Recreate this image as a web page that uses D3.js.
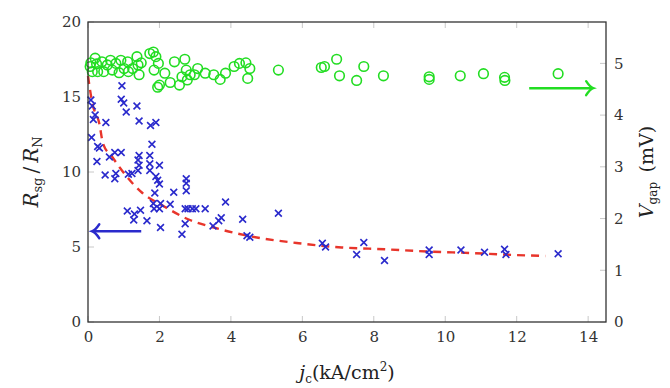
<!DOCTYPE html>
<html><head><meta charset="utf-8">
<script src="https://cdn.jsdelivr.net/npm/d3@7"></script>
<style>
body{margin:0;background:#fff;}
svg text{font-family:"DejaVu Serif","Liberation Serif",serif !important;}
</style></head>
<body>
<svg id="chart" width="670" height="388"></svg>
<script>
// Blue crosses: R_sg/R_N vs j_c
const rsgX = [0.08,0.12,0.1,0.15,0.2,0.27,0.32,0.25,0.48,0.5,0.6,0.75,0.78,0.75,0.93,0.95,0.93,1.0,1.07,1.13,1.1,1.23,1.28,1.3,1.37,1.43,1.43,1.4,1.43,1.4,1.47,1.65,1.73,1.73,1.73,1.75,1.79,1.87,1.83,1.85,1.9,1.9,1.95,2.0,2.0,2.0,2.03,2.03,2.3,2.4,2.63,2.72,2.72,2.75,2.75,2.75,2.8,2.92,3.02,3.28,3.5,3.66,3.73,3.85,4.33,4.45,4.53,5.33,6.56,6.65,7.52,7.72,8.3,9.55,9.55,10.44,11.1,11.66,11.7,13.16];
const rsgY = [14.8,14.4,12.3,13.5,13.8,11.7,11.6,10.7,9.8,13.3,11.0,11.3,9.9,9.55,11.3,15.75,14.85,14.6,14.0,9.85,7.4,9.9,6.8,7.2,14.4,13.4,11.1,10.8,10.45,10.1,7.45,6.75,11.1,10.55,10.1,13.1,11.85,8.6,7.9,7.55,13.3,9.7,9.45,9.2,10.45,7.55,6.3,7.9,7.85,8.65,5.85,6.55,7.55,9.55,9.25,8.75,7.55,7.55,7.55,7.55,6.4,6.75,6.95,8.0,6.85,5.75,5.65,7.25,5.25,5.0,4.5,5.3,4.1,4.8,4.5,4.8,4.65,4.85,4.5,4.55];
// Green circles: V_gap (mV) vs j_c
const vgX = [0.06,0.08,0.12,0.2,0.24,0.27,0.39,0.44,0.54,0.63,0.68,0.78,0.87,0.92,1.01,1.11,1.13,1.25,1.37,1.4,1.43,1.49,1.73,1.83,1.9,1.85,1.97,2.0,1.95,2.15,2.3,2.42,2.56,2.63,2.71,2.75,2.78,2.86,2.98,3.07,3.28,3.52,3.7,3.85,4.09,4.24,4.42,4.47,4.53,5.33,6.53,6.62,6.96,7.04,7.52,7.72,8.27,9.55,9.55,10.42,11.07,11.66,11.67,13.16];
const vgY = [4.94,5.01,4.84,5.1,4.99,4.84,5.03,4.84,4.97,5.06,4.87,5.0,4.82,5.06,4.9,5.03,4.84,4.9,5.13,4.97,4.78,5.01,5.19,5.22,5.13,4.87,5.0,4.58,4.54,4.81,4.63,5.03,4.58,4.74,5.08,4.87,4.68,4.78,4.78,4.9,4.81,4.78,4.69,4.81,4.94,5.0,5.01,4.71,4.9,4.87,4.92,4.94,5.08,4.76,4.67,4.94,4.76,4.74,4.69,4.76,4.8,4.73,4.67,4.8];
// Red dashed fit curve
const fitX = [0.0,0.12,0.32,0.42,0.68,0.95,1.5,2.1,2.8,3.52,4.47,5.9,7.1,8.3,9.5,10.7,11.9,12.8];
const fitY = [16.4,14.6,13.2,11.9,11.0,10.1,8.65,7.75,6.85,6.3,5.75,5.25,4.97,4.85,4.7,4.6,4.47,4.4];
// Tick labels
const xTicks = [0,2,4,6,8,10,12,14];
const yLeftTicks = [0,5,10,15,20];
const yRightTicks = [0,1,2,3,4,5];
// Arrow annotations [x0,x1,y]
const blueArrow = [1.49, 0.12, 6.05];
const greenArrow = [12.35, 14.14, 4.52];

const FONT = "'DejaVu Serif','Liberation Serif',serif";
const svg = d3.select("#chart");
const L = 88, R = 606, T = 22, B = 322;
const x = d3.scaleLinear().domain([0,14.5]).range([L,R]);
const yL = d3.scaleLinear().domain([0,20]).range([B,T]);
const yR = d3.scaleLinear().domain([0,5.8]).range([B,T]);

const tickCol = "#c8c8c8";
const gt = svg.append("g").attr("stroke", tickCol).attr("stroke-width", 1);
xTicks.forEach(t => {
  gt.append("line").attr("x1", x(t)).attr("x2", x(t)).attr("y1", B).attr("y2", B-6);
  gt.append("line").attr("x1", x(t)).attr("x2", x(t)).attr("y1", T).attr("y2", T+6);
});
yLeftTicks.forEach(t => {
  gt.append("line").attr("x1", L).attr("x2", L+6).attr("y1", yL(t)).attr("y2", yL(t));
});
yRightTicks.forEach(t => {
  gt.append("line").attr("x1", R).attr("x2", R-6).attr("y1", yR(t)).attr("y2", yR(t));
});

const fs = 15;
const fmt = d3.format("d");
const ax = svg.append("g").attr("transform", `translate(0,${B})`)
  .call(d3.axisBottom(x).tickValues(xTicks).tickFormat(fmt).tickSize(0).tickPadding(9));
const ayl = svg.append("g").attr("transform", `translate(${L},0)`)
  .call(d3.axisLeft(yL).tickValues(yLeftTicks).tickFormat(fmt).tickSize(0).tickPadding(7));
const ayr = svg.append("g").attr("transform", `translate(${R},0)`)
  .call(d3.axisRight(yR).tickValues(yRightTicks).tickFormat(fmt).tickSize(0).tickPadding(8));
[ax, ayl, ayr].forEach(g => {
  g.attr("font-family", null);
  g.select(".domain").remove();
  g.selectAll("text").attr("font-size", fs).attr("fill", "#333").style("font-family", FONT);
});

// fit curve
svg.append("path")
  .datum(fitX.map((d,i)=>[d, fitY[i]]))
  .attr("fill","none").attr("stroke","#e8352b").attr("stroke-width",2.4)
  .attr("stroke-dasharray","8,6")
  .attr("d", d3.line().x(d=>x(d[0])).y(d=>yL(d[1])).curve(d3.curveMonotoneX));

// green circles
svg.append("g").selectAll("circle").data(vgX.map((d,i)=>[d, vgY[i]])).join("circle")
  .attr("cx", d=>x(d[0])).attr("cy", d=>yR(d[1])).attr("r", 4.8)
  .attr("fill","none").attr("stroke","#22dd22").attr("stroke-width",1.6);

// blue crosses
const s = 3.4;
svg.append("g").selectAll("path").data(rsgX.map((d,i)=>[d, rsgY[i]])).join("path")
  .attr("d", d => {
    const cx = x(d[0]), cy = yL(d[1]);
    return `M${cx-s},${cy-s}L${cx+s},${cy+s}M${cx-s},${cy+s}L${cx+s},${cy-s}`;
  })
  .attr("stroke","#2a2acc").attr("stroke-width",1.6).attr("fill","none");

// arrows
function arrow(x0, x1, yy, col) {
  const dir = Math.sign(x1 - x0);
  svg.append("line").attr("x1", x0).attr("x2", x1 - dir*1).attr("y1", yy).attr("y2", yy)
    .attr("stroke", col).attr("stroke-width", 2.6);
  svg.append("path")
    .attr("d", `M${x1 - dir*7},${yy-7} Q${x1 - dir*3},${yy-1} ${x1},${yy} Q${x1 - dir*3},${yy+1} ${x1 - dir*7},${yy+7}`)
    .attr("fill","none").attr("stroke", col).attr("stroke-width", 2.4).attr("stroke-linecap","round");
}
arrow(x(blueArrow[0]), x(blueArrow[1]), yL(blueArrow[2]), "#2a2acc");
arrow(x(greenArrow[0]), x(greenArrow[1]), yR(greenArrow[2]), "#22dd22");

// frame
svg.append("rect").attr("x", L).attr("y", T).attr("width", R-L).attr("height", B-T)
  .attr("fill","none").attr("stroke","#333").attr("stroke-width",1.3);

// axis titles
const lt = svg.append("text").attr("transform", `translate(38,${(T+B)/2}) rotate(-90)`)
  .attr("text-anchor","middle").attr("font-size",20).attr("fill","#222").style("font-family", FONT);
lt.append("tspan").attr("font-style","italic").text("R");
lt.append("tspan").attr("font-size",13).attr("dy",4).text("sg");
lt.append("tspan").attr("dy",-4).text("\u2009/\u2009");
lt.append("tspan").attr("font-style","italic").text("R");
lt.append("tspan").attr("font-size",13).attr("dy",4).text("N");

const bt = svg.append("text").attr("transform", `translate(${(L+R)/2},379)`)
  .attr("text-anchor","middle").attr("font-size",19).attr("fill","#222").style("font-family", FONT);
bt.append("tspan").attr("font-style","italic").text("j");
bt.append("tspan").attr("font-size",12).attr("dy",4).text("c");
bt.append("tspan").attr("dy",-4).text("(kA/cm");
bt.append("tspan").attr("font-size",12).attr("dy",-8).text("2");
bt.append("tspan").attr("dy",8).text(")");

const rt = svg.append("text").attr("transform", `translate(653,${(T+B)/2}) rotate(-90)`)
  .attr("text-anchor","middle").attr("font-size",19).attr("fill","#222").style("font-family", FONT);
rt.append("tspan").attr("font-style","italic").text("V");
rt.append("tspan").attr("font-size",12).attr("dy",4).text("gap");
rt.append("tspan").attr("dy",-4).text("\u2002(mV)");
</script>
</body></html>
